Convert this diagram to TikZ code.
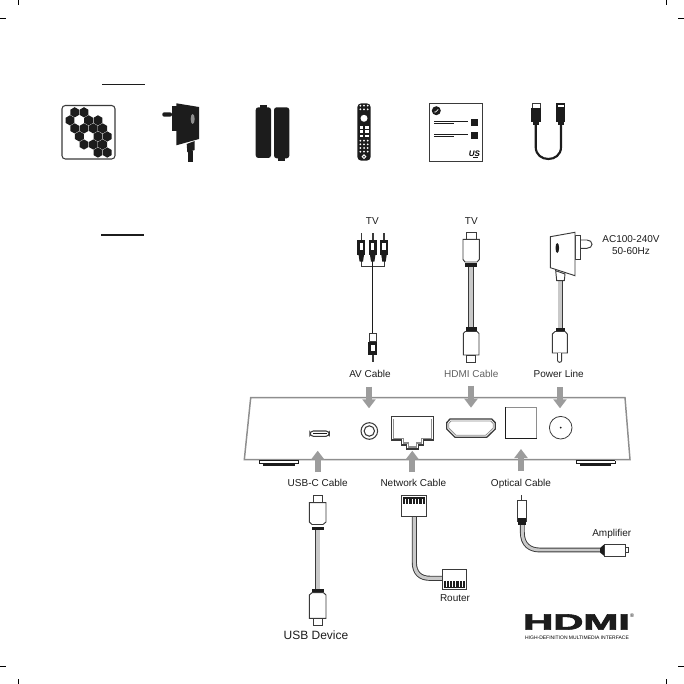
\documentclass[tikz,border=0pt]{standalone}
\usepackage{fontspec}
\setsansfont{Liberation Sans}
\newfontfamily\logofont[FakeBold=2.5]{Liberation Sans Bold}
\usepackage{tikz}
\usetikzlibrary{arrows.meta}
\usepackage{xcolor}
\definecolor{inkdark}{HTML}{1C1C1C}
\definecolor{wiregray}{HTML}{3A3A3A}
\definecolor{coregray}{HTML}{C9C9C9}
\definecolor{arrowgray}{HTML}{9C9C9C}
\definecolor{shellgray}{HTML}{8E8E8E}

\begin{document}
\begin{tikzpicture}[x=0.75pt, y=-0.75pt, font=\sffamily,
    label/.style={font=\sffamily\fontsize{7.5}{9}\selectfont, text=inkdark},
    portarrow/.style={arrowgray, line width=4.5pt, -{Triangle[length=6.75pt,width=9.75pt]}},
    plug/.style={draw=wiregray, line width=0.7pt, fill=white},
    cable/.style={draw=wiregray, line width=0.7pt, double=coregray, double distance=2.8pt},
    shell/.style={draw=shellgray, line width=1.1pt},
    port/.style={draw=wiregray, line width=0.8pt}]

    \useasboundingbox (0,0) rectangle (684,684);

    % Crop marks in the four corners
    \foreach \cx/\ex in {18/0, 666/684} {
        \draw[black, line width=0.6pt] (\cx,0) -- (\cx,5);
        \draw[black, line width=0.6pt] (\cx,679) -- (\cx,684);
        \draw[black, line width=0.6pt] (\ex,18) -- ({\ex+(\cx-\ex)/3},18);
        \draw[black, line width=0.6pt] (\ex,666) -- ({\ex+(\cx-\ex)/3},666);
    }

    % Heading rules
    \draw[inkdark, line width=0.8pt] (102,84.5) -- (145,84.5);
    \draw[inkdark, line width=0.8pt] (101,235) -- (144,235);

    % Box contents, first row

    % Hexagon card
    \draw[draw=wiregray, line width=0.8pt, rounded corners=2.5pt] (62,105.5) rectangle (115,159);
    \foreach \row/\col in {0/0,0/2,1/-1,1/3,1/5,2/0,2/2,2/4,2/6,3/1,3/5,3/7,4/2,4/4,4/6,5/5,5/7} {
        \fill[inkdark] ({74.7+\col*4.65},{112.3+\row*8.05}) +(30:5.1) -- +(90:5.1) -- +(150:5.1)
            -- +(210:5.1) -- +(270:5.1) -- +(330:5.1) -- cycle;
    }

    % Wall adapter
    \fill[inkdark] (176.3,103.3) -- (199,107) -- (199,139) -- (176.3,145.3) -- cycle;
    \fill[inkdark] (171.7,106) rectangle (176.5,131);
    \fill[inkdark, rounded corners=1.5pt] (162.3,112.3) rectangle (172,116.7);
    \fill[inkdark] (186.7,144) -- (194.7,141) -- (194.7,150) -- (187.3,152.3) -- cycle;
    \fill[inkdark] (188.3,151) rectangle (193,161.7);
    \fill[shellgray] (192.7,119) ellipse (2 and 5);

    % Batteries
    \fill[inkdark, rounded corners=2pt] (255.7,107.3) rectangle (271,158);
    \fill[inkdark] (260,104.7) rectangle (267.3,108);
    \fill[inkdark, rounded corners=2pt] (274,107.3) rectangle (289.3,158.3);
    \fill[inkdark] (278,158) rectangle (285.3,160.7);

    % Remote control
    \fill[inkdark, rounded corners=3pt] (357.3,103.3) rectangle (370.7,160.7);
    \foreach \by in {105.7,109.3,140.7,144.3,148,151.7} {
        \foreach \bx in {360.3,364,367.7} {
            \fill[white] (\bx,\by) circle (1);
        }
    }
    \fill[white] (364,118.3) circle (3.5);
    \foreach \by in {127.5,131.7,136.3} {
        \fill[white] (359.5,{\by-1.2}) rectangle (363,{\by+1.2});
        \fill[white] (365,{\by-1.2}) rectangle (368.5,{\by+1.2});
    }
    \draw[white, line width=0.7pt] (364,156.7) circle (1.8);

    % Manual sheet
    \draw[wiregray, line width=0.8pt] (429.3,103.3) rectangle (482.7,161.3);
    \fill[inkdark] (436.3,110.7) circle (4.5);
    \draw[white, line width=0.5pt] (434.3,112) .. controls (436,113) and (438,109) .. (438.3,109.5);
    \foreach \ly/\sy in {121.7/119, 134/132} {
        \draw[inkdark, line width=0.7pt] (434,\ly) -- (468,\ly);
        \draw[inkdark, line width=0.7pt] (434,\ly+2.2) -- (454,\ly+2.2);
        \fill[inkdark] (471,\sy) rectangle (478.3,\sy+7);
    }
    \node[inner sep=0pt] (brandMark) at (474.3,153.5) {\fontsize{6}{6}\selectfont\bfseries\itshape US};
    \draw[inkdark, line width=0.3pt] (473,157.7) -- (478,157.7);

    % Short HDMI cable
    \draw[inkdark, line width=1.6pt] (535.7,124) -- (535.7,147) .. controls (535.7,163) and (561,163) .. (561,147) -- (561,124);
    \draw[plug] (532,103.7) rectangle (540.7,108);
    \fill[inkdark] (531,108) rectangle (541.3,121.7);
    \fill[inkdark] (532.7,121.7) rectangle (539,124.7);
    \fill[inkdark] (556,103.3) rectangle (565.3,121.7);
    \fill[white] (558,105) rectangle (563.5,107.5);
    \fill[inkdark] (557.7,121.7) rectangle (564,124.7);

    % Cables above the box

    % AV cable, three plugs joined to one wire
    \draw[wiregray, line width=0.6pt] (361.3,261) -- (361.3,266) -- (384,266) -- (384,261);
    \draw[inkdark, line width=0.7pt] (372.7,261) -- (372.7,334);
    \foreach \px in {361.3,372.7,384} {
        \draw[wiregray, line width=1.2pt] (\px,233.3) -- (\px,240);
        \fill[inkdark] (\px-4,240) rectangle (\px+4,255);
        \fill[white] (\px-1.7,243) rectangle (\px+1.7,250);
        \fill[inkdark] (\px-2.7,255) -- (\px+2.7,255) -- (\px+1.7,261.7) -- (\px-1.7,261.7) -- cycle;
    }
    \draw[plug] (369.3,333.3) rectangle (376,341.7);
    \fill[inkdark] (368.3,341.7) rectangle (376.7,355);
    \fill[white] (371,345) rectangle (374.5,351);
    \draw[wiregray, line width=1.2pt] (372.7,355) -- (372.7,361.7);

    % HDMI cable
    \draw[cable] (471,267) -- (471,327);
    \draw[plug] (466.7,232.3) rectangle (476,239.3);
    \draw[plug] (463,239.3) -- (479.3,239.3) -- (479.3,259.5) -- (477,262) -- (465,262) -- (463,259.5) -- cycle;
    \fill[inkdark] (465,262.5) rectangle (477,267);
    \fill[inkdark] (465.5,326.7) rectangle (476.5,331.5);
    \draw[plug] (463.3,333.5) -- (465.3,331.5) -- (477,331.5) -- (479,333.5) -- (479,355) -- (463.3,355) -- cycle;
    \draw[plug] (466.3,355) rectangle (475.7,362.3);

    % Power line
    \draw[cable] (560.3,280) -- (560.3,328);
    \draw[plug] (580,240) -- (587,240) .. controls (590,240) and (592,242) .. (592,244.2)
        .. controls (592,246.5) and (590,248.3) .. (587,248.3) -- (580,248.3);
    \draw[plug] (575,235) rectangle (580,259);
    \draw[plug] (555.7,270.7) -- (565,274) -- (564.3,280.7) -- (556.7,280.7) -- cycle;
    \draw[plug] (550.3,236.7) -- (575,232.3) -- (575,275.7) -- (550.3,267.7) -- cycle;
    \fill[inkdark] (557.3,248) ellipse (1.8 and 5);
    \fill[inkdark] (555.5,328.3) rectangle (565,332);
    \draw[plug] (552.3,334) -- (555,331.5) -- (565,331.5) -- (567.3,334) -- (567.3,353) -- (552.3,353) -- cycle;
    \draw[plug, rounded corners=1.5pt] (557.5,353) -- (557.5,362.3) -- (561.7,362.3) -- (561.7,353);

    % The box, back panel
    \draw[shell] (250.7,397.7) -- (625,397.7) -- (630,459.7) -- (244.3,459.7) -- cycle;
    \foreach \fx in {259.3,576} {
        \draw[inkdark, line width=0.7pt] (\fx,460.5) -- (\fx+39.4,460.5);
        \draw[inkdark, line width=0.5pt] (\fx+0.5,460.5) -- (\fx+0.5,463) -- (\fx+38.9,463) -- (\fx+38.9,460.5);
        \draw[inkdark, line width=0.9pt] (\fx+4,465) -- (\fx+35.4,465);
    }

    % Ports
    \draw[port, rounded corners=2.5pt] (310,431) rectangle (329.3,436.3);
    \draw[inkdark, line width=1.1pt] (313,433.7) -- (326.5,433.7);
    \draw[port] (369.3,431) circle (8.3);
    \draw[port] (369.3,431) circle (5.2);
    \draw[shellgray, line width=1.2pt] (393.5,418.5) -- (393.5,438.3) -- (403.5,438.3) -- (403.5,443.2) -- (408.5,443.2)
        -- (408.5,447) -- (416.5,447) -- (416.5,443.2) -- (421.5,443.2) -- (421.5,438.3) -- (431.5,438.3) -- (431.5,418.5);
    \draw[port, line width=1.1pt] (391.7,440) -- (391.7,416.7) -- (433.3,416.7) -- (433.3,440) -- (423.3,440) -- (423.3,445)
        -- (418.3,445) -- (418.3,449) -- (406.7,449) -- (406.7,445) -- (401.7,445) -- (401.7,440) -- cycle;
    \draw[port, line width=1pt] (450,419) -- (491.7,419) -- (495.3,422.7) -- (495.3,429) -- (486.7,437.3) -- (455,437.3) -- (446.7,429) -- (446.7,422.7) -- cycle;
    \draw[shellgray, line width=0.6pt] (451,421) -- (490.7,421) -- (493.3,423.5) -- (493.3,428) -- (485.7,435.3) -- (456,435.3) -- (448.7,428) -- (448.7,423.5) -- cycle;
    \draw[shellgray, line width=0.7pt] (505.7,407.3) rectangle (536.7,438.3);
    \draw[inkdark, line width=1pt] (505.7,407.3) -- (505.7,438.3) -- (536.7,438.3);
    \draw[port, line width=0.6pt] (560.7,427.7) circle (11.3);
    \fill[inkdark] (560.7,427.7) circle (1);

    % Arrows pointing at the ports
    \foreach \name/\ax/\ay/\by in {av/369/386.7/408.3, hdmi/471/385.7/407.7, power/560/387/408.3,
                                  usb/317.7/472/450.7, net/412.3/472/450.7, optical/521/471/449} {
        \coordinate (\name Start) at (\ax,\ay);
        \coordinate (\name End) at (\ax,\by);
        \draw[portarrow] (\name Start) -- (\name End);
    }

    % Cables below the box

    % USB-C cable
    \draw[cable, double distance=2.6pt] (317.8,530) -- (317.8,589);
    \draw[plug] (313.3,495) rectangle (322.3,502.7);
    \draw[plug] (309.3,502.7) -- (326,502.7) -- (326,522) -- (323,524.5) -- (312,524.5) -- (309.3,522) -- cycle;
    \fill[inkdark] (312,526.5) rectangle (323.5,530);
    \fill[inkdark] (312,588.7) rectangle (323.5,592);
    \draw[plug] (309.3,595) -- (312,592.7) -- (323.5,592.7) -- (326,595) -- (326,618.3) -- (309.3,618.3) -- cycle;
    \draw[plug] (313.3,618.3) rectangle (322.3,625.7);

    % Network cable
    \draw[cable, double distance=2.4pt] (414.3,516) -- (414.3,562) .. controls (414.3,573) and (420,578.3) .. (430,578.3) -- (442.3,578.3);
    \draw[plug] (401,495.7) rectangle (426.7,516);
    \fill[inkdark] (402.5,497) rectangle (425.2,503.5);
    \foreach \tx in {405.5,408.8,412.1,415.4,418.7,422} {
        \draw[white, line width=0.5pt] (\tx,498.5) -- (\tx,503.5);
    }
    \draw[plug] (442.3,569.3) rectangle (466.7,589.3);
    \fill[inkdark] (443.8,581) rectangle (465.2,588);
    \foreach \tx in {446.5,449.6,452.7,455.8,458.9,462} {
        \draw[white, line width=0.5pt] (\tx,581) -- (\tx,586.5);
    }

    % Optical cable
    \draw[cable, double distance=2.2pt] (522.3,525) -- (522.3,532) .. controls (522.3,545) and (530,550) .. (540,550) -- (600,550);
    \draw[wiregray, line width=1pt] (521.7,495) -- (521.7,500);
    \draw[plug] (517,500) rectangle (526,521.7);
    \fill[inkdark] (517.5,518) rectangle (525.5,524.5);
    \fill[inkdark] (600,548) -- (604.3,544.3) -- (604.3,556) -- (600,552.5) -- cycle;
    \draw[plug] (604.3,544.3) rectangle (625,556);
    \draw[plug] (625,547.3) rectangle (628.7,552.7);

    % Labels
    \node[label] (tvAv) at (372.3,220.7) {TV};
    \node[label] (tvHdmi) at (471.3,220.7) {TV};
    \node[label, align=center] (mains) at (631,245.5) {AC100-240V\\50-60Hz};
    \node[label] (avLabel) at (370,374) {AV Cable};
    \node[label, text=wiregray!80] (hdmiLabel) at (471.3,374) {HDMI Cable};
    \node[label] (powerLabel) at (558.7,374) {Power Line};
    \node[label] (usbLabel) at (317.7,482.7) {USB-C Cable};
    \node[label] (netLabel) at (413.3,483.3) {Network Cable};
    \node[label] (opticalLabel) at (521,483.7) {Optical Cable};
    \node[label] (ampLabel) at (611.7,534.3) {Amplifier};
    \node[label] (routerLabel) at (455,598) {Router};
    \node[label, font=\sffamily\fontsize{9}{10}\selectfont] (deviceLabel) at (316,635.7) {USB Device};

    % HDMI wordmark
    \node[inner sep=0pt, text=inkdark] (hdmiMark) at (576.5,622) {\scalebox{1.9}[1]{\fontsize{16.5}{18}\selectfont\logofont HDMI}};
    \node[inner sep=0pt] (hdmiReg) at (632,615.7) {\fontsize{4}{5}\selectfont ®};
    \node[inner sep=0pt] (hdmiTag) at (577,637.7) {\fontsize{3.75}{5}\selectfont HIGH-DEFINITION MULTIMEDIA INTERFACE};

\end{tikzpicture}
\end{document}
